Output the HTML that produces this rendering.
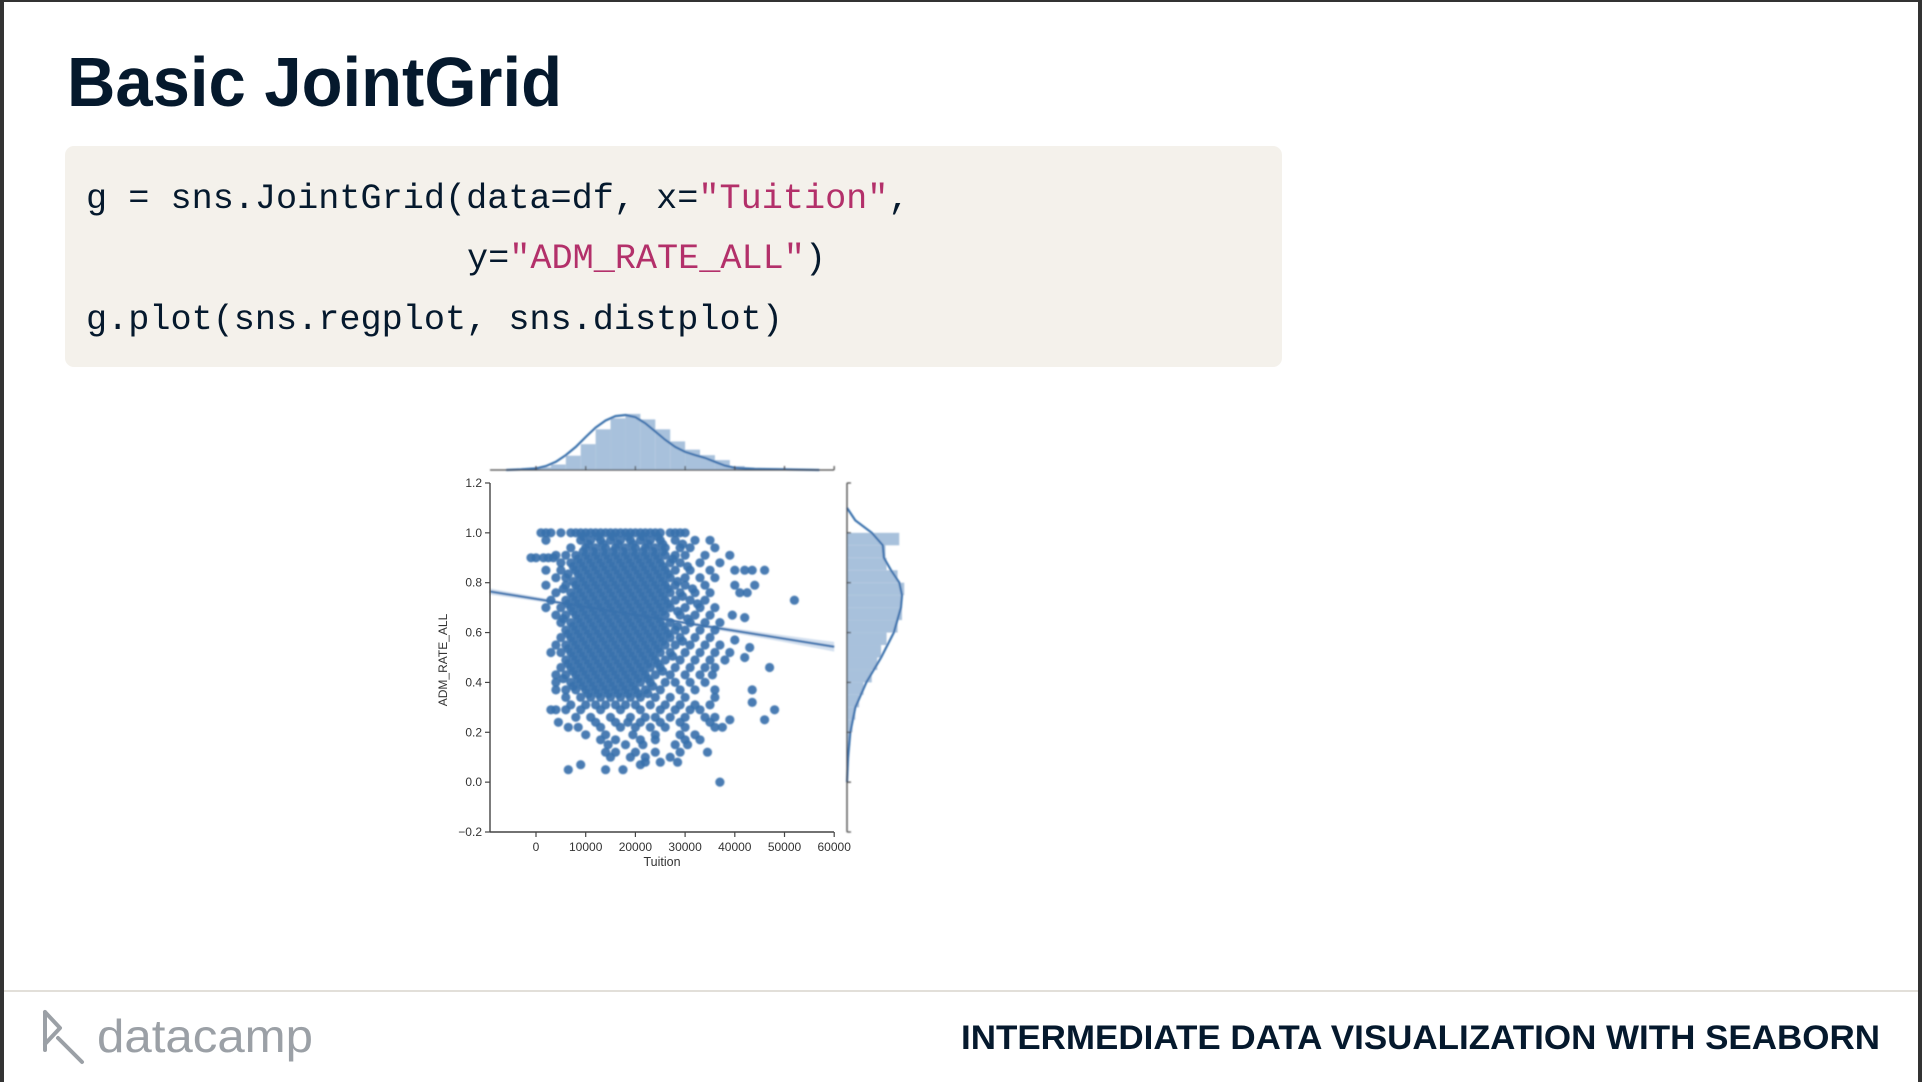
<!DOCTYPE html>
<html><head><meta charset="utf-8"><style>
html,body{margin:0;padding:0;background:#fff;}
svg{display:block;}
</style></head><body>
<svg id="page" width="1922" height="1082" viewBox="0 0 1922 1082" xmlns="http://www.w3.org/2000/svg">
<rect x="0" y="0" width="1922" height="1082" fill="#fff"/>
<rect x="0" y="0" width="1922" height="2" fill="#333"/>
<rect x="0" y="0" width="4" height="1082" fill="#333"/>
<rect x="1918" y="0" width="4" height="1082" fill="#333"/>
<text x="67" y="106" font-family="Liberation Sans, sans-serif" font-weight="bold" font-size="70" fill="#05192d" textLength="495" lengthAdjust="spacingAndGlyphs">Basic JointGrid</text>
<g>
<rect x="65" y="146" width="1217" height="221" rx="9" fill="#f4f1eb"/>
<text font-family="Liberation Mono, monospace" font-size="35.2" fill="#05192d">
<tspan x="86" y="208">g = sns.JointGrid(data=df, x=<tspan fill="#b3306a">"Tuition"</tspan>,</tspan>
<tspan x="467" y="268">y=<tspan fill="#b3306a">"ADM_RATE_ALL"</tspan>)</tspan>
<tspan x="86" y="329">g.plot(sns.regplot, sns.distplot)</tspan>
</text>
</g>
<g id="chart"></g>
<rect x="4" y="990" width="1914" height="2" fill="#e2dfd9"/>
<g>
<path d="M45 1012 L45 1050 M45 1012 L60 1028 L45 1044 M58 1038 L82 1062" stroke="#9ba0a6" stroke-width="4" fill="none" stroke-linecap="round" stroke-linejoin="round"/>
<text x="97" y="1052" font-family="Liberation Sans, sans-serif" font-size="46" fill="#9ba0a6" textLength="216" lengthAdjust="spacingAndGlyphs">datacamp</text>
</g>
<text x="961" y="1049" font-family="Liberation Sans, sans-serif" font-weight="bold" font-size="34" fill="#05192d" textLength="919" lengthAdjust="spacingAndGlyphs">INTERMEDIATE DATA VISUALIZATION WITH SEABORN</text>
</svg>
<script>
// Data (tuition in thousands of dollars, admission rate)
const samples = [
[1,1],[2,1],[3,1],[5,1],[7,1],[8,1],[9,1],[10,1],[11,1],[12,1],[13,1],[14,1],[15,1],[16,1],[17,1],[18,1],[19,1],[20,1],[21,1],[22,1],[23,1],[24,1],[25,1],[27,1],[28,1],[29,1],[30,1],
[2,0.97],[9,0.97],[11,0.97],[13,0.97],[15,0.97],[17,0.97],[19,0.97],[21,0.97],[23,0.97],[25,0.97],[28,0.97],[32,0.97],[35,0.97],
[7,0.94],[10,0.94],[12,0.94],[14,0.94],[16,0.94],[18,0.94],[20,0.94],[22,0.94],[24,0.94],[26,0.94],[29,0.94],[31,0.94],[36,0.94],
[4,0.91],[6,0.91],[8,0.91],[10,0.91],[12,0.91],[14,0.91],[16,0.91],[18,0.91],[20,0.91],[22,0.91],[24,0.91],[26,0.91],[28,0.91],[30,0.91],[34,0.91],[39,0.91],
[-1,0.9],[0,0.9],[1.5,0.9],[2.5,0.9],[3.5,0.9],
[5,0.88],[7,0.88],[9,0.88],[11,0.88],[13,0.88],[15,0.88],[17,0.88],[19,0.88],[21,0.88],[23,0.88],[25,0.88],[27,0.88],[29,0.88],[33,0.88],[37,0.88],
[2,0.85],[5,0.85],[8,0.85],[10,0.85],[12,0.85],[14,0.85],[16,0.85],[18,0.85],[20,0.85],[22,0.85],[24,0.85],[26,0.85],[28,0.85],[31,0.85],[35,0.85],[40,0.85],[42,0.85],[43.5,0.85],[46,0.85],
[4,0.82],[6,0.82],[9,0.82],[11,0.82],[13,0.82],[15,0.82],[17,0.82],[19,0.82],[21,0.82],[23,0.82],[25,0.82],[27,0.82],[30,0.82],[33,0.82],[36,0.82],
[2,0.79],[6,0.79],[8,0.79],[10,0.79],[12,0.79],[14,0.79],[16,0.79],[18,0.79],[20,0.79],[22,0.79],[24,0.79],[26,0.79],[28,0.79],[30,0.79],[34,0.79],[40,0.79],[44,0.79],
[4,0.76],[7,0.76],[9,0.76],[11,0.76],[13,0.76],[15,0.76],[17,0.76],[19,0.76],[21,0.76],[23,0.76],[25,0.76],[27,0.76],[29,0.76],[32,0.76],[35,0.76],[41,0.76],[42.5,0.76],
[3,0.73],[6,0.73],[8,0.73],[10,0.73],[12,0.73],[14,0.73],[16,0.73],[18,0.73],[20,0.73],[22,0.73],[24,0.73],[26,0.73],[28,0.73],[31,0.73],[34,0.73],[52,0.73],
[2,0.7],[5,0.7],[7,0.7],[9,0.7],[11,0.7],[13,0.7],[15,0.7],[17,0.7],[19,0.7],[21,0.7],[23,0.7],[25,0.7],[27,0.7],[30,0.7],[33,0.7],[36,0.7],
[4,0.67],[6,0.67],[8,0.67],[10,0.67],[12,0.67],[14,0.67],[16,0.67],[18,0.67],[20,0.67],[22,0.67],[24,0.67],[26,0.67],[29,0.67],[32,0.67],[35,0.67],[39.5,0.67],[42,0.66],
[5,0.64],[7,0.64],[9,0.64],[11,0.64],[13,0.64],[15,0.64],[17,0.64],[19,0.64],[21,0.64],[23,0.64],[25,0.64],[27,0.64],[31,0.64],[34,0.64],[37,0.64],
[6,0.61],[8,0.61],[10,0.61],[12,0.61],[14,0.61],[16,0.61],[18,0.61],[20,0.61],[22,0.61],[24,0.61],[26,0.61],[28,0.61],[30,0.61],[33,0.61],[36,0.61],
[5,0.58],[7,0.58],[9,0.58],[11,0.58],[13,0.58],[15,0.58],[17,0.58],[19,0.58],[21,0.58],[23,0.58],[25,0.58],[27,0.58],[29,0.58],[32,0.58],[35,0.58],[40,0.57],
[4,0.55],[6,0.55],[8,0.55],[10,0.55],[12,0.55],[14,0.55],[16,0.55],[18,0.55],[20,0.55],[22,0.55],[24,0.55],[26,0.55],[28,0.55],[31,0.55],[34,0.55],[37,0.55],[43,0.54],
[3,0.52],[5,0.52],[7,0.52],[9,0.52],[11,0.52],[13,0.52],[15,0.52],[17,0.52],[19,0.52],[21,0.52],[23,0.52],[25,0.52],[27,0.52],[30,0.52],[33,0.52],[36,0.52],[39,0.52],[42,0.5],
[6,0.49],[8,0.49],[10,0.49],[12,0.49],[14,0.49],[16,0.49],[18,0.49],[20,0.49],[22,0.49],[24,0.49],[26,0.49],[29,0.49],[32,0.49],[35,0.49],[38,0.49],
[5,0.46],[7,0.46],[9,0.46],[11,0.46],[13,0.46],[15,0.46],[17,0.46],[19,0.46],[21,0.46],[23,0.46],[25,0.46],[28,0.46],[31,0.46],[34,0.46],[36,0.46],[47,0.46],
[4,0.43],[6,0.43],[8,0.43],[10,0.43],[12,0.43],[14,0.43],[16,0.43],[18,0.43],[20,0.43],[22,0.43],[24,0.43],[27,0.43],[30,0.43],[33,0.43],[35.5,0.43],
[4,0.4],[7,0.4],[9,0.4],[11,0.4],[13,0.4],[15,0.4],[17,0.4],[19,0.4],[21,0.4],[23,0.4],[26,0.4],[28,0.4],[31,0.4],[34,0.4],
[4,0.37],[6,0.37],[8,0.37],[10,0.37],[12,0.37],[14,0.37],[16,0.37],[18,0.37],[20,0.37],[22,0.37],[25,0.37],[29,0.37],[32,0.37],[36,0.37],[43.5,0.37],
[6,0.34],[9,0.34],[11,0.34],[13,0.34],[15,0.34],[17,0.34],[19,0.34],[21,0.34],[24,0.34],[27,0.34],[30,0.34],[36,0.34],
[7,0.31],[10,0.31],[12,0.31],[14,0.31],[16,0.31],[18,0.31],[20,0.31],[23,0.31],[26,0.31],[29,0.31],[32,0.31],[35,0.31],[43.5,0.32],
[3,0.29],[4,0.29],[6,0.29],[9,0.29],[13,0.29],[17,0.29],[21,0.29],[25,0.29],[28,0.29],[31,0.29],[33,0.29],[48,0.29],
[8,0.26],[11,0.26],[15,0.26],[19,0.26],[22,0.26],[24,0.26],[27,0.26],[30,0.26],[34,0.26],[36,0.26],
[4.5,0.24],[12,0.24],[16,0.24],[18.5,0.24],[21,0.24],[25,0.24],[29,0.24],[35,0.24],[39,0.25],[46,0.25],
[6.5,0.22],[8.5,0.22],[13,0.22],[17,0.22],[20,0.22],[23,0.22],[26,0.22],[30,0.22],[36,0.22],[37.5,0.22],
[10,0.19],[14,0.19],[19.5,0.19],[24,0.19],[29,0.19],[32,0.19],
[13,0.17],[16,0.17],[21,0.17],[24,0.17],[30,0.17],[33,0.17],
[14.5,0.15],[18,0.15],[21.5,0.15],[28,0.15],[30.5,0.15],
[14,0.12],[16,0.12],[20,0.12],[24,0.12],[29,0.12],[34.5,0.12],
[15,0.1],[19,0.1],[22,0.1],[27,0.1],
[22,0.08],[25,0.08],[28.5,0.08],
[9,0.07],[21,0.07],
[6.5,0.05],[14,0.05],[17.5,0.05],
[37,0],
[9.5,0.985],[12.5,0.985],[15.5,0.985],[18.5,0.985],[21.5,0.985],[24.5,0.985],
[10.5,0.955],[13.5,0.955],[16.5,0.955],[19.5,0.955],[22.5,0.955],[25.5,0.955],[29.5,0.955],
[9.5,0.925],[11.5,0.925],[13.5,0.925],[15.5,0.925],[17.5,0.925],[19.5,0.925],[21.5,0.925],[23.5,0.925],[25.5,0.925],
[8.5,0.895],[10.5,0.895],[12.5,0.895],[14.5,0.895],[16.5,0.895],[18.5,0.895],[20.5,0.895],[22.5,0.895],[24.5,0.895],[27.5,0.895],
[7.5,0.865],[9.5,0.865],[11.5,0.865],[13.5,0.865],[15.5,0.865],[17.5,0.865],[19.5,0.865],[21.5,0.865],[23.5,0.865],[25.5,0.865],[30.5,0.865],
[6.5,0.835],[8.5,0.835],[10.5,0.835],[12.5,0.835],[14.5,0.835],[16.5,0.835],[18.5,0.835],[20.5,0.835],[22.5,0.835],[24.5,0.835],[26.5,0.835],
[7.5,0.805],[9.5,0.805],[11.5,0.805],[13.5,0.805],[15.5,0.805],[17.5,0.805],[19.5,0.805],[21.5,0.805],[23.5,0.805],[25.5,0.805],[28.5,0.805],
[5.5,0.775],[8.5,0.775],[10.5,0.775],[12.5,0.775],[14.5,0.775],[16.5,0.775],[18.5,0.775],[20.5,0.775],[22.5,0.775],[24.5,0.775],[26.5,0.775],[31.5,0.775],
[7.5,0.745],[9.5,0.745],[11.5,0.745],[13.5,0.745],[15.5,0.745],[17.5,0.745],[19.5,0.745],[21.5,0.745],[23.5,0.745],[25.5,0.745],[29.5,0.745],
[6.5,0.715],[8.5,0.715],[10.5,0.715],[12.5,0.715],[14.5,0.715],[16.5,0.715],[18.5,0.715],[20.5,0.715],[22.5,0.715],[24.5,0.715],[26.5,0.715],[32.5,0.715],
[7.5,0.685],[9.5,0.685],[11.5,0.685],[13.5,0.685],[15.5,0.685],[17.5,0.685],[19.5,0.685],[21.5,0.685],[23.5,0.685],[25.5,0.685],[28.5,0.685],
[5.5,0.655],[8.5,0.655],[10.5,0.655],[12.5,0.655],[14.5,0.655],[16.5,0.655],[18.5,0.655],[20.5,0.655],[22.5,0.655],[24.5,0.655],[30.5,0.655],
[7.5,0.625],[9.5,0.625],[11.5,0.625],[13.5,0.625],[15.5,0.625],[17.5,0.625],[19.5,0.625],[21.5,0.625],[23.5,0.625],[25.5,0.625],[28.5,0.625],
[6.5,0.595],[8.5,0.595],[10.5,0.595],[12.5,0.595],[14.5,0.595],[16.5,0.595],[18.5,0.595],[20.5,0.595],[22.5,0.595],[24.5,0.595],[26.5,0.595],
[7.5,0.565],[9.5,0.565],[11.5,0.565],[13.5,0.565],[15.5,0.565],[17.5,0.565],[19.5,0.565],[21.5,0.565],[23.5,0.565],[25.5,0.565],[29.5,0.565],
[6.5,0.535],[8.5,0.535],[10.5,0.535],[12.5,0.535],[14.5,0.535],[16.5,0.535],[18.5,0.535],[20.5,0.535],[22.5,0.535],[24.5,0.535],
[7.5,0.505],[9.5,0.505],[11.5,0.505],[13.5,0.505],[15.5,0.505],[17.5,0.505],[19.5,0.505],[21.5,0.505],[23.5,0.505],[27.5,0.505],
[6.5,0.475],[8.5,0.475],[10.5,0.475],[12.5,0.475],[14.5,0.475],[16.5,0.475],[18.5,0.475],[20.5,0.475],[22.5,0.475],[24.5,0.475],
[7.5,0.445],[9.5,0.445],[11.5,0.445],[13.5,0.445],[15.5,0.445],[17.5,0.445],[19.5,0.445],[21.5,0.445],[25.5,0.445],
[5.5,0.415],[8.5,0.415],[10.5,0.415],[12.5,0.415],[14.5,0.415],[16.5,0.415],[18.5,0.415],[20.5,0.415],[22.5,0.415],
[7.5,0.385],[9.5,0.385],[11.5,0.385],[13.5,0.385],[15.5,0.385],[17.5,0.385],[19.5,0.385],[23.5,0.385],
[10.5,0.355],[12.5,0.355],[14.5,0.355],[16.5,0.355],[18.5,0.355],[20.5,0.355],[22.5,0.355]
];
const xTicks = [0, 10000, 20000, 30000, 40000, 50000, 60000];
const yTicks = [-0.2, 0.0, 0.2, 0.4, 0.6, 0.8, 1.0, 1.2];
const regIntercept = 0.735;
const regSlope = -3.2e-6;
const kdeTuitionX = [-6,-3,0,2,4,6,8,10,12,14,16,18,20,22,24,26,28,30,32,34,36,38,40,44,50,57];
const kdeTuitionD = [0,0.01,0.03,0.07,0.15,0.27,0.42,0.6,0.77,0.9,0.98,1,0.96,0.85,0.7,0.55,0.42,0.33,0.27,0.22,0.15,0.08,0.04,0.02,0.01,0];
const histTuitionEdges = [-6,-3,0,3,6,9,12,15,18,21,24,27,30,33,36,39,42,45,48,51,54,57];
const histTuitionD = [0.01,0.02,0.05,0.1,0.26,0.47,0.74,0.94,1.02,0.92,0.74,0.52,0.37,0.27,0.18,0.07,0.03,0.02,0.01,0.01,0.01];
const kdeRateY = [0,0.1,0.2,0.3,0.4,0.5,0.6,0.7,0.75,0.8,0.85,0.9,0.95,1.0,1.05,1.1];
const kdeRateD = [0,0.02,0.06,0.15,0.35,0.62,0.85,0.98,1,0.95,0.8,0.67,0.65,0.45,0.15,0];
const histRateEdges = [0,0.05,0.1,0.15,0.2,0.25,0.3,0.35,0.4,0.45,0.5,0.55,0.6,0.65,0.7,0.75,0.8,0.85,0.9,0.95,1.0];
const histRateD = [0.01,0.02,0.04,0.06,0.1,0.15,0.22,0.3,0.45,0.55,0.62,0.72,0.92,1.0,0.98,1.04,0.92,0.72,0.7,0.95];

const NS = "http://www.w3.org/2000/svg";
const chart = document.getElementById('chart');
const X0 = 536, XS = 49.7/10000;
const Y0 = 832, YS = 249.3;
const X = v => X0 + v * XS;
const Y = r => Y0 - (r + 0.2) * YS;
const xMin = (490 - X0) / XS, xMax = 60000;
const TOPBASE = 470, TOPH = 55, RBASE = 847, RW = 55;
const MT = v => TOPBASE - v * TOPH;
const MR = v => RBASE + v * RW;
const col = '#3a72ad';

function mk(tag, attrs, parent) {
  const e = document.createElementNS(NS, tag);
  for (const k in attrs) e.setAttribute(k, attrs[k]);
  (parent || chart).appendChild(e);
  return e;
}
const blur = mk('filter', {id: 'soft', x: '-10%', y: '-10%', width: '120%', height: '120%'});
mk('feGaussianBlur', {stdDeviation: '0.7'}, blur);

const topG = mk('g', {filter: 'url(#soft)'});


histTuitionD.forEach((d, i) => {
  const x1 = X(histTuitionEdges[i] * 1000), x2 = X(histTuitionEdges[i + 1] * 1000);
  const b = mk('rect', {x: x1, y: MT(d), width: x2 - x1, height: TOPBASE - MT(d), fill: '#a8c1dc'}, topG);
  
  
});
let pd = kdeTuitionX.map((k, i) => (i ? 'L' : 'M') + X(k * 1000).toFixed(1) + ' ' + MT(kdeTuitionD[i]).toFixed(1)).join(' ');
const kt = mk('path', {d: pd, fill: 'none', stroke: col, 'stroke-width': 2.2}, topG);


mk('line', {x1: 490, x2: 834, y1: TOPBASE, y2: TOPBASE, stroke: '#444', 'stroke-width': 1.3}, topG);
xTicks.forEach(t => mk('line', {x1: X(t), x2: X(t), y1: TOPBASE, y2: TOPBASE - 4, stroke: '#444', 'stroke-width': 1.2}, topG));

const rG = mk('g', {filter: 'url(#soft)'});


histRateD.forEach((d, i) => {
  const y1 = Y(histRateEdges[i + 1]), y2 = Y(histRateEdges[i]);
  const b = mk('rect', {x: RBASE, y: y1, width: MR(d) - RBASE, height: y2 - y1, fill: '#a8c1dc'}, rG);
  
  
});
pd = kdeRateY.map((r, i) => (i ? 'L' : 'M') + MR(kdeRateD[i]).toFixed(1) + ' ' + Y(r).toFixed(1)).join(' ');
const kr = mk('path', {d: pd, fill: 'none', stroke: col, 'stroke-width': 2.2}, rG);


mk('line', {x1: RBASE, x2: RBASE, y1: 483, y2: 832, stroke: '#444', 'stroke-width': 1.3}, rG);
yTicks.forEach(t => mk('line', {x1: RBASE, x2: RBASE + 4, y1: Y(t), y2: Y(t), stroke: '#444', 'stroke-width': 1.2}, rG));

// regression line (drawn beneath the points)
const regG = mk('g', {filter: 'url(#soft)'});


const N = 20, xm = 19000;
const up = [], lo = [];
for (let i = 0; i <= N; i++) {
  const xv = xMin + (xMax - xMin) * i / N;
  const yv = regIntercept + regSlope * xv;
  const w = 0.006 + 0.000000000008 * (xv - xm) * (xv - xm);
  up.push(X(xv).toFixed(1) + ' ' + Y(yv + w).toFixed(1));
  lo.unshift(X(xv).toFixed(1) + ' ' + Y(yv - w).toFixed(1));
}
mk('path', {d: 'M' + up.join(' L') + ' L' + lo.join(' L') + ' Z', fill: '#c4d6ea', 'fill-opacity': 0.75}, regG);
mk('line', {x1: X(xMin), y1: Y(regIntercept + regSlope * xMin), x2: X(xMax), y2: Y(regIntercept + regSlope * xMax), stroke: col, 'stroke-width': 2.2}, regG);

const ptsG = mk('g', {filter: 'url(#soft)'});


samples.forEach(p => {
  const c = mk('circle', {cx: X(p[0] * 1000).toFixed(1), cy: Y(p[1]).toFixed(1), r: 4.6, fill: col, 'fill-opacity': 0.92}, ptsG);
  
  
});

const axG = mk('g', {});


mk('line', {x1: 490, x2: 490, y1: 483, y2: 832, stroke: '#444', 'stroke-width': 1.4}, axG);
mk('line', {x1: 490, x2: 834, y1: 832, y2: 832, stroke: '#444', 'stroke-width': 1.4}, axG);
xTicks.forEach(t => {
  mk('line', {x1: X(t), x2: X(t), y1: 832, y2: 837, stroke: '#444', 'stroke-width': 1.2}, axG);
  const tx = mk('text', {x: X(t), y: 851, 'text-anchor': 'middle', 'font-family': 'Liberation Sans, sans-serif', 'font-size': 12, fill: '#333'}, axG);
  tx.textContent = String(t);
  
  
});
yTicks.forEach(t => {
  mk('line', {x1: 485, x2: 490, y1: Y(t), y2: Y(t), stroke: '#444', 'stroke-width': 1.2}, axG);
  const tx = mk('text', {x: 482, y: Y(t) + 4, 'text-anchor': 'end', 'font-family': 'Liberation Sans, sans-serif', 'font-size': 12, fill: '#333'}, axG);
  tx.textContent = (t < 0 ? '\u2212' : '') + Math.abs(t).toFixed(1);
  
  
});
const xl = mk('text', {x: 662, y: 866, 'text-anchor': 'middle', 'font-family': 'Liberation Sans, sans-serif', 'font-size': 12.5, fill: '#333'}, axG);
xl.textContent = 'Tuition';


const yl = mk('text', {x: 0, y: 0, 'text-anchor': 'middle', 'font-family': 'Liberation Sans, sans-serif', 'font-size': 12, fill: '#333', transform: 'translate(447,660) rotate(-90)'}, axG);
yl.textContent = 'ADM_RATE_ALL';


</script>
</body></html>
